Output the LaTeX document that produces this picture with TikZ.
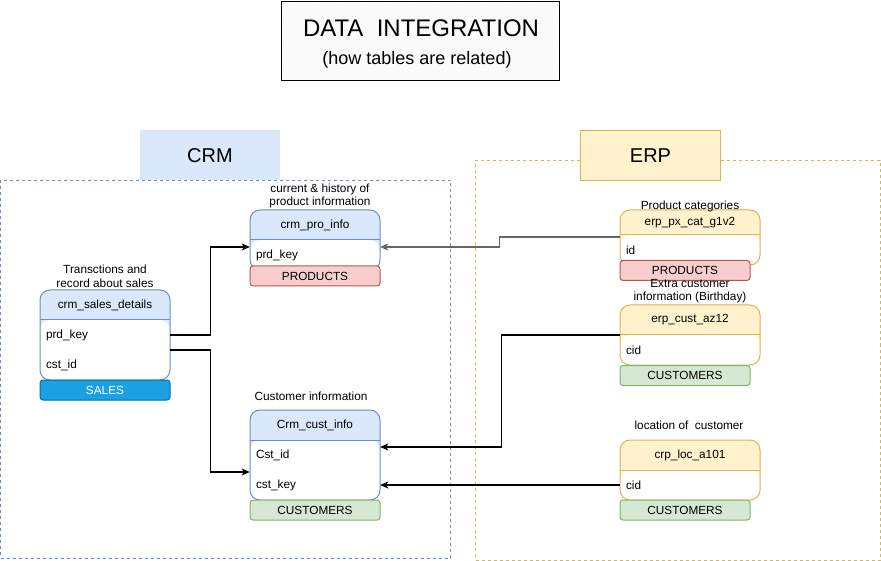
\documentclass[tikz,border=0pt]{standalone}
\usepackage{fontspec}
\setmainfont{Liberation Sans}
\usepackage{tikz}
\usetikzlibrary{arrows,arrows.meta,shapes,positioning,patterns}
\usepackage{xcolor}
\definecolor{dioblue}{HTML}{6C8EBF}
\definecolor{diobluefill}{HTML}{DAE8FC}
\definecolor{dioyellow}{HTML}{D6B656}
\definecolor{dioyellowfill}{HTML}{FFF2CC}
\definecolor{diored}{HTML}{B85450}
\definecolor{dioredfill}{HTML}{F8CECC}
\definecolor{diogreen}{HTML}{82B366}
\definecolor{diogreenfill}{HTML}{D5E8D4}
\definecolor{diosales}{HTML}{1BA1E2}
\definecolor{diosalesline}{HTML}{006EAF}
\definecolor{diogray}{HTML}{666666}
\tikzstyle{link} = [line width=1.1pt,->,>={Stealth[length=8pt,width=7pt,inset=2pt]}]
\tikzstyle{group} = [rectangle, dash pattern=on 3pt off 3pt, line width=0.8pt, inner sep=0pt]
\tikzstyle{grouplabel} = [rectangle, minimum width=140pt, minimum height=50pt, inner sep=0pt, font=\fontsize{20}{24}\selectfont]
\tikzstyle{titlebox} = [rectangle, draw, line width=1pt, minimum width=278pt, minimum height=79pt, pattern=north east lines, pattern color=black!6]
\tikzstyle{badge} = [rectangle, rounded corners=3pt, line width=1pt, minimum width=130pt, minimum height=20pt, inner sep=0pt]
\tikzstyle{field} = [align=left, text width=118pt, inner xsep=6pt, inner ysep=2pt]
\tikzset{
  dbtable/.style n args={3}{rectangle, rounded corners=10pt, line width=1pt, inner sep=0pt,
    minimum width=130pt, draw=#1, fill=#2,
    path picture={
      \fill[white] ([yshift=-#3]path picture bounding box.north west) rectangle (path picture bounding box.south east);
      \draw[#1, line width=1pt] ([yshift=-#3]path picture bounding box.north west) -- ([yshift=-#3]path picture bounding box.north east);
    }}
}

\begin{document}
\begin{tikzpicture}[x=1pt, y=-1pt, font=\fontsize{11.8}{13.5}\selectfont]
\useasboundingbox (0,0) rectangle (881,561);

% Title
\node[titlebox] (title) at (420,41) {};
\node (titlemain) at (421,28) {\fontsize{24}{28}\selectfont DATA\ \ INTEGRATION};
\node (titlesub) at (417,60) {\fontsize{18}{21}\selectfont (how tables are related)};

% Groups
\node[group, draw=dioblue, minimum width=450pt, minimum height=378pt] (crmgroup) at (225.5,369) {};
\node[group, draw=dioyellow, minimum width=404.5pt, minimum height=399.5pt] (erpgroup) at (677.75,360.25) {};
\node[grouplabel, fill=diobluefill] (crmlabel) at (210,155.5) {CRM};
\node[grouplabel, fill=dioyellowfill, draw=dioyellow, line width=1pt] (erplabel) at (650.5,155.5) {ERP};

% CRM tables
\node[dbtable={dioblue}{diobluefill}{30pt}, minimum height=60pt] (pro) at (315,240) {};
\node (protitle) at (315,225) {crm\_pro\_info};
\node[field] (proprd) at (315,255) {prd\_key};
\node[badge, draw=diored, fill=dioredfill] (probadge) at (315,276) {PRODUCTS};
\node[align=center] (pronote) at (320,196) {current \& history of\\product information};

\node[dbtable={dioblue}{diobluefill}{30pt}, minimum height=90pt] (sales) at (105,335) {};
\node (salestitle) at (105,305) {crm\_sales\_details};
\node[field] (salesprd) at (105,335) {prd\_key};
\node[field] (salescst) at (105,365) {cst\_id};
\node[badge, draw=diosalesline, fill=diosales, text=white] (salesbadge) at (105,390) {SALES};
\node[align=center] (salesnote) at (105,276.5) {Transctions and\\record about sales};

\node[dbtable={dioblue}{diobluefill}{30pt}, minimum height=90pt] (cust) at (315,455) {};
\node (custtitle) at (315,425) {Crm\_cust\_info};
\node[field] (custid) at (315,455) {Cst\_id};
\node[field] (custkey) at (315,485) {cst\_key};
\node[badge, draw=diogreen, fill=diogreenfill] (custbadge) at (315,510) {CUSTOMERS};
\node (custnote) at (311,396) {Customer information};

% ERP tables
\node[dbtable={dioyellow}{dioyellowfill}{25pt}, minimum width=140pt, minimum height=55pt] (px) at (690,237.5) {};
\node (pxtitle) at (690,222.5) {erp\_px\_cat\_g1v2};
\node[field, text width=128pt] (pxid) at (690,250) {id};
\node[badge, draw=diored, fill=dioredfill] (pxbadge) at (685,270.5) {PRODUCTS};
\node (pxnote) at (690,206) {Product categories};

\node[dbtable={dioyellow}{dioyellowfill}{30pt}, minimum width=140pt, minimum height=60pt] (az) at (690,335) {};
\node (aztitle) at (690,320) {erp\_cust\_az12};
\node[field, text width=128pt] (azcid) at (690,350) {cid};
\node[badge, draw=diogreen, fill=diogreenfill] (azbadge) at (685,375.5) {CUSTOMERS};
\node[align=center] (aznote) at (690,291) {Extra customer\\information (Birthday)};

\node[dbtable={dioyellow}{dioyellowfill}{30pt}, minimum width=140pt, minimum height=60pt] (loc) at (690,470) {};
\node (loctitle) at (690,455) {crp\_loc\_a101};
\node[field, text width=128pt] (loccid) at (690,485) {cid};
\node[badge, draw=diogreen, fill=diogreenfill] (locbadge) at (685,510) {CUSTOMERS};
\node (locnote) at (689,425) {location of\ \ customer};

% Relations
\draw[link] (salesprd.east) -- ++(40,0) |- ([yshift=8pt]proprd.west);
\draw[link] ([yshift=-15pt]salesprd.east) -- ++(40,0) |- ([yshift=13pt]custkey.west);
\draw[link, diogray] ([yshift=13pt]pxid.west) -- ++(-120,0) |- ([yshift=8pt]proprd.east);
\draw[link] ([yshift=15pt]azcid.west) -- ++(-118,0) |- ([yshift=8pt]custid.east);
\draw[link] (loccid.west) -- (custkey.east);
\end{tikzpicture}
\end{document}
